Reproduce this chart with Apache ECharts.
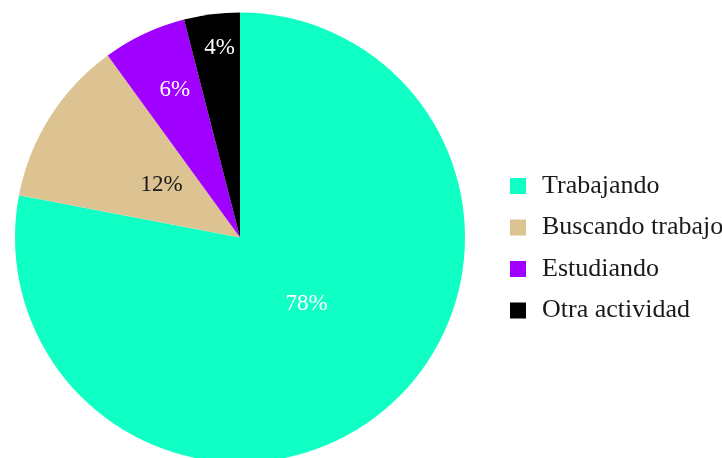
<!DOCTYPE html>
<html>
<head>
<meta charset="utf-8">
<script src="https://cdn.jsdelivr.net/npm/echarts@6/dist/echarts.min.js"></script>
<style>
  html, body { margin: 0; padding: 0; background: #ffffff; }
  #chart { width: 722px; height: 458px; }
</style>
</head>
<body>
<div id="chart"></div>
<script>
// Situación actual: share of each activity
const categories = ['Trabajando', 'Buscando trabajo', 'Estudiando', 'Otra actividad'];
const shares = [78, 12, 6, 4];
const sliceColors = ['#10FFC4', '#DCC391', '#A000FF', '#000000'];
const labelColors = ['#ffffff', '#1a1a1a', '#ffffff', '#ffffff'];
// nudges for the in-slice percentage labels
const labelOffsets = [[-7, -23], [19, 9], [-16, -43], [-6, -75]];

const FONT = '"Liberation Serif", "DejaVu Serif", serif';

const chart = echarts.init(document.getElementById('chart'), null, { renderer: 'canvas' });

const data = categories.map((name, i) => ({
  name: name,
  value: shares[i],
  itemStyle: { color: sliceColors[i] },
  label: { color: labelColors[i], offset: labelOffsets[i] }
}));

chart.setOption({
  animation: false,
  backgroundColor: '#ffffff',
  legend: {
    orient: 'vertical',
    left: 510,
    top: 173,
    padding: 0,
    icon: 'rect',
    itemWidth: 16,
    itemHeight: 16,
    itemGap: 15.5,
    data: categories,
    textStyle: {
      fontFamily: FONT,
      fontSize: 26,
      color: '#1a1a1a',
      padding: [0, 0, 0, 11]
    }
  },
  series: [{
    type: 'pie',
    center: [240, 237.5],
    radius: [0, 225],
    startAngle: 90,
    clockwise: true,
    avoidLabelOverlap: false,
    label: {
      show: true,
      position: 'inside',
      formatter: '{c}%',
      fontFamily: FONT,
      fontSize: 23
    },
    labelLine: { show: false },
    emphasis: { disabled: true },
    itemStyle: { borderWidth: 0 },
    data: data
  }]
});
</script>
</body>
</html>
